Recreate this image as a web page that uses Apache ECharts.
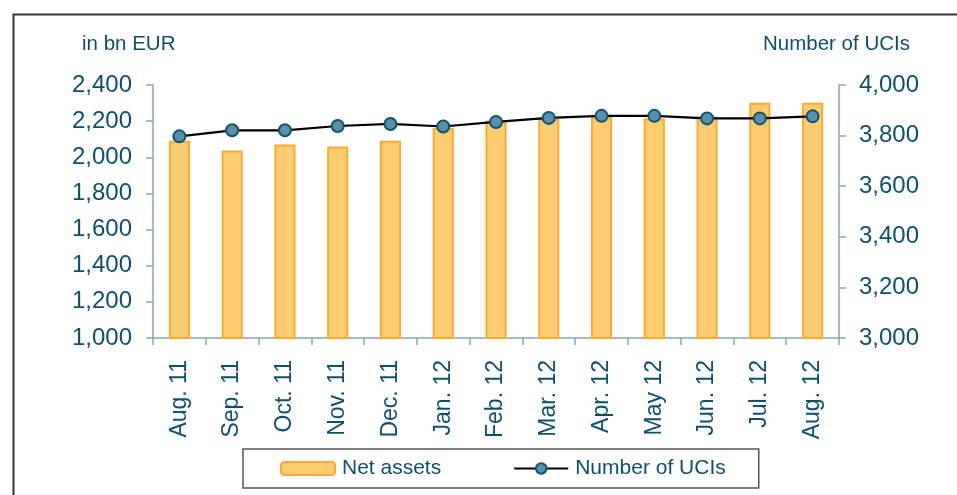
<!DOCTYPE html>
<html>
<head>
<meta charset="utf-8">
<script src="https://cdn.jsdelivr.net/npm/echarts@6/dist/echarts.min.js"></script>
<style>
html,body{margin:0;padding:0;background:#fff;}
#chart{width:957px;height:495px;}
</style>
</head>
<body>
<div id="chart"></div>
<script>
const categories = ['Aug. 11','Sep. 11','Oct. 11','Nov. 11','Dec. 11','Jan. 12','Feb. 12','Mar. 12','Apr. 12','May 12','Jun. 12','Jul. 12','Aug. 12'];
const netAssets = [2092, 2038, 2071, 2059, 2092, 2162, 2203, 2214, 2225, 2214, 2225, 2302, 2302];
const numberOfUCIs = [3797, 3821, 3821, 3838, 3846, 3836, 3854, 3870, 3878, 3878, 3868, 3868, 3876];
const leftTicks = {min: 1000, max: 2400, interval: 200};
const rightTicks = {min: 3000, max: 4000, interval: 200};

const textColor = '#0F4F6E';
const axisColor = '#8AA5B5';
const font = '"Liberation Sans", Arial, sans-serif';
const fmt = v => Number(v).toLocaleString('en-US');

const chart = echarts.init(document.getElementById('chart'));
chart.setOption({
  animation: false,
  backgroundColor: '#ffffff',
  textStyle: {fontFamily: font, color: textColor},
  grid: {left: 153, right: 118, top: 85, bottom: 157, containLabel: false},
  graphic: [
    {type: 'rect', left: 11, top: 12, shape: {width: 1000, height: 600},
     style: {fill: 'none', stroke: '#333333', lineWidth: 2}, silent: true, z: -1},
    {type: 'text', left: 82, top: 34, style: {text: 'in bn EUR', fill: textColor, font: '20.5px ' + font}},
    {type: 'text', left: 763, top: 34, style: {text: 'Number of UCIs', fill: textColor, font: '20.5px ' + font}}
  ],
  legend: {
    left: 243, top: 449,
    padding: [9, 33, 9, 37],
    itemGap: 72,
    itemWidth: 54, itemHeight: 13,
    borderColor: '#555555', borderWidth: 1.5, borderRadius: 0,
    textStyle: {fontSize: 21, color: textColor, fontFamily: font, padding: [0, 0, 0, 2]},
    data: ['Net assets', 'Number of UCIs']
  },
  xAxis: {
    type: 'category', data: categories,
    axisLine: {lineStyle: {color: axisColor, width: 1.5}},
    axisTick: {show: true, length: 7, lineStyle: {color: axisColor, width: 1.5}},
    axisLabel: {rotate: 90, margin: 22, fontSize: 23, color: textColor, fontFamily: font, interval: 0}
  },
  yAxis: [
    {type: 'value', min: leftTicks.min, max: leftTicks.max, interval: leftTicks.interval,
     position: 'left',
     axisLine: {show: true, lineStyle: {color: axisColor, width: 1.5}},
     axisTick: {show: true, length: 7, lineStyle: {color: axisColor, width: 1.5}},
     splitLine: {show: false},
     axisLabel: {margin: 21, fontSize: 24, color: textColor, fontFamily: font, formatter: fmt}},
    {type: 'value', min: rightTicks.min, max: rightTicks.max, interval: rightTicks.interval,
     position: 'right',
     axisLine: {show: true, lineStyle: {color: axisColor, width: 1.5}},
     axisTick: {show: true, length: 7, lineStyle: {color: axisColor, width: 1.5}},
     splitLine: {show: false},
     axisLabel: {margin: 20, fontSize: 24, color: textColor, fontFamily: font, formatter: fmt}}
  ],
  series: [
    {name: 'Net assets', type: 'bar', yAxisIndex: 0, data: netAssets, barWidth: '40%',
     itemStyle: {color: '#FDCC70', borderColor: '#F9AC32', borderWidth: 2}},
    {name: 'Number of UCIs', type: 'line', yAxisIndex: 1, data: numberOfUCIs,
     symbol: 'circle', symbolSize: 12, z: 5,
     lineStyle: {color: '#000000', width: 2.2},
     itemStyle: {color: '#5B8FA9', borderColor: '#0F5470', borderWidth: 2}}
  ]
});
</script>
</body>
</html>
